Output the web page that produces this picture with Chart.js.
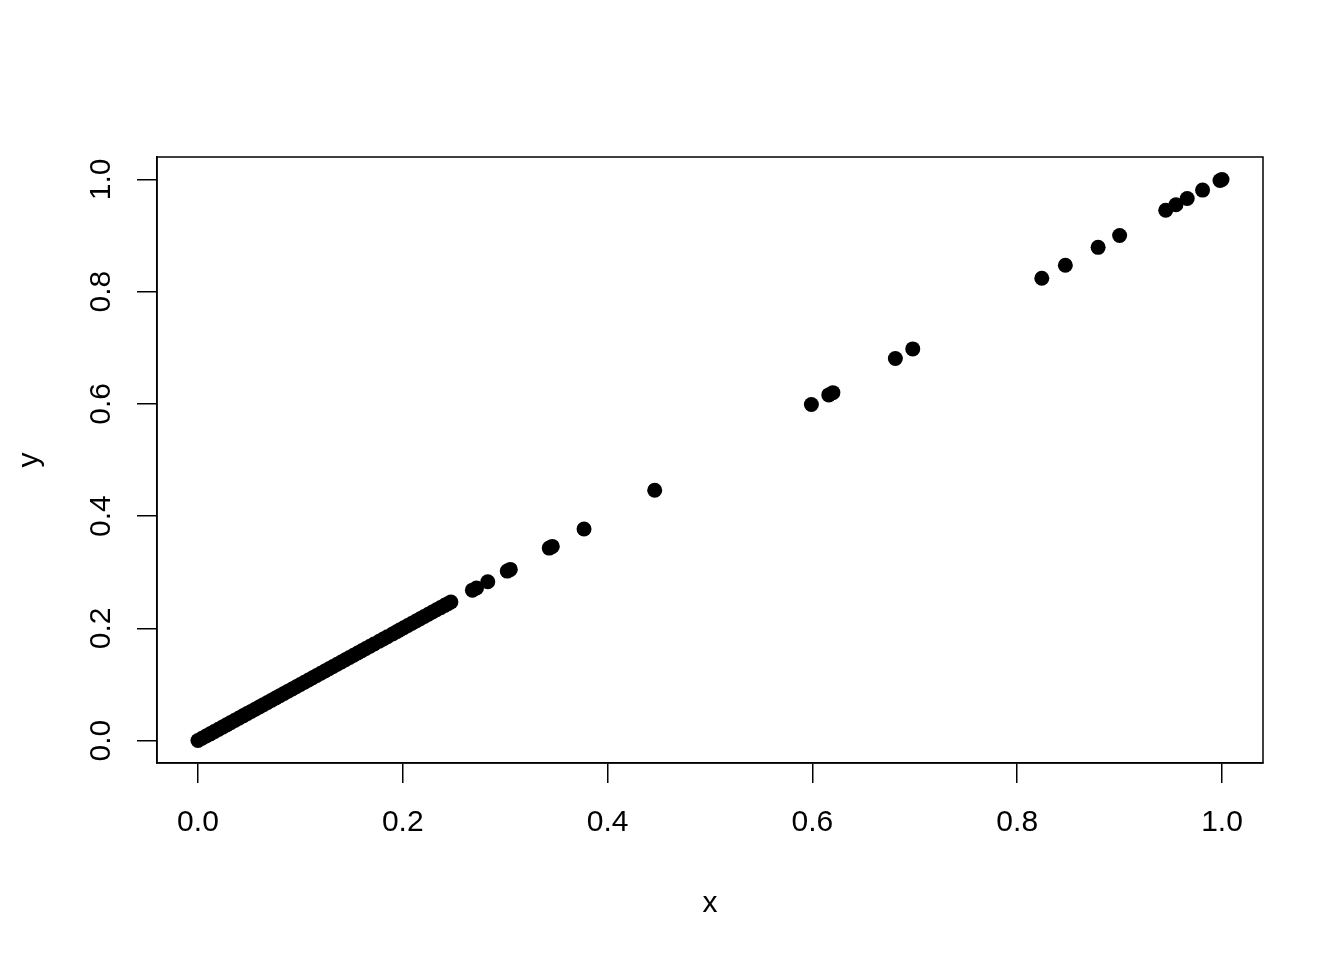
<!DOCTYPE html>
<html>
<head>
<meta charset="utf-8">
<script src="https://cdn.jsdelivr.net/npm/chart.js@4.4.1/dist/chart.umd.min.js"></script>
<style>
  html, body { margin: 0; padding: 0; background: #fff; }
  #wrap { width: 1344px; height: 960px; position: relative; }
</style>
</head>
<body>
<div id="wrap"><canvas id="plot"></canvas></div>
<script>
// values (points lie on y = x)
const xValues = [
  0.000, 0.004, 0.008, 0.012, 0.016, 0.020, 0.024, 0.028, 0.032, 0.036,
  0.040, 0.044, 0.048, 0.052, 0.056, 0.060, 0.064, 0.068, 0.072, 0.076,
  0.080, 0.084, 0.088, 0.092, 0.096, 0.100, 0.104, 0.108, 0.112, 0.116,
  0.120, 0.124, 0.128, 0.132, 0.136, 0.140, 0.144, 0.148, 0.152, 0.156,
  0.160, 0.164, 0.168, 0.172, 0.177, 0.181, 0.185, 0.190, 0.194, 0.197,
  0.201, 0.205, 0.209, 0.213, 0.217, 0.221, 0.225, 0.229, 0.233, 0.237,
  0.241, 0.244, 0.247,
  0.268, 0.272, 0.283, 0.302, 0.305, 0.343, 0.346, 0.377, 0.446,
  0.599, 0.616, 0.620, 0.681, 0.698, 0.824, 0.847, 0.879, 0.900,
  0.945, 0.955, 0.966, 0.981, 0.998, 1.000,
];
const yValues = [
  0.000, 0.004, 0.008, 0.012, 0.016, 0.020, 0.024, 0.028, 0.032, 0.036,
  0.040, 0.044, 0.048, 0.052, 0.056, 0.060, 0.064, 0.068, 0.072, 0.076,
  0.080, 0.084, 0.088, 0.092, 0.096, 0.100, 0.104, 0.108, 0.112, 0.116,
  0.120, 0.124, 0.128, 0.132, 0.136, 0.140, 0.144, 0.148, 0.152, 0.156,
  0.160, 0.164, 0.168, 0.172, 0.177, 0.181, 0.185, 0.190, 0.194, 0.197,
  0.201, 0.205, 0.209, 0.213, 0.217, 0.221, 0.225, 0.229, 0.233, 0.237,
  0.241, 0.244, 0.247,
  0.268, 0.272, 0.283, 0.302, 0.305, 0.343, 0.346, 0.377, 0.446,
  0.599, 0.616, 0.620, 0.681, 0.698, 0.824, 0.847, 0.879, 0.900,
  0.945, 0.955, 0.966, 0.981, 0.998, 1.000,
];
const xTicks = [0, 0.2, 0.4, 0.6, 0.8, 1.0];
const yTicks = [0, 0.2, 0.4, 0.6, 0.8, 1.0];

const FONT = { family: '"Liberation Sans", Arial, Helvetica, sans-serif', size: 30 };

function fixTicks(list) {
  return (scale) => { scale.ticks = list.map((v) => ({ value: v })); };
}

// R-style frame around the plotting region
const boxPlugin = {
  id: 'box',
  afterDraw(chart) {
    const { ctx, chartArea: a } = chart;
    ctx.save();
    ctx.strokeStyle = '#000';
    ctx.lineWidth = 1.5;
    ctx.strokeRect(a.left, a.top, a.right - a.left, a.bottom - a.top);
    ctx.restore();
  },
};

const points = xValues.map((x, i) => ({ x, y: yValues[i] }));

new Chart(document.getElementById('plot'), {
  type: 'scatter',
  data: {
    datasets: [{
      data: points,
      backgroundColor: '#000',
      borderWidth: 0,
      pointRadius: 7.5,
      pointHoverRadius: 7.5,
    }],
  },
  options: {
    responsive: true,
    maintainAspectRatio: false,
    devicePixelRatio: 1,
    animation: false,
    events: [],
    layout: { padding: { top: 157, right: 81, left: 0, bottom: 0 } },
    plugins: { legend: { display: false }, tooltip: { enabled: false } },
    scales: {
      x: {
        type: 'linear',
        min: -0.04,
        max: 1.04,
        afterBuildTicks: fixTicks(xTicks),
        afterFit(scale) { scale.height = 197; },
        border: { display: true, color: '#000', width: 1.5 },
        grid: { drawOnChartArea: false, drawTicks: true, tickLength: 20, color: '#000', lineWidth: 1.5 },
        ticks: {
          color: '#000',
          font: FONT,
          padding: 22,
          autoSkip: false,
          maxRotation: 0,
          callback: (v) => Number(v).toFixed(1),
        },
        title: { display: true, text: 'x', color: '#000', font: FONT, padding: { top: 0, bottom: 38.5 } },
      },
      y: {
        type: 'linear',
        min: -0.04,
        max: 1.04,
        afterBuildTicks: fixTicks(yTicks),
        afterFit(scale) { scale.width = 157; },
        border: { display: true, color: '#000', width: 1.5 },
        grid: { drawOnChartArea: false, drawTicks: true, tickLength: 20, color: '#000', lineWidth: 1.5 },
        ticks: {
          color: '#000',
          font: FONT,
          padding: 14,
          autoSkip: false,
          minRotation: 90,
          maxRotation: 90,
          crossAlign: 'center',
          callback: (v) => Number(v).toFixed(1),
        },
        title: { display: true, text: 'y', color: '#000', font: FONT, padding: { top: 12, bottom: 0 } },
      },
    },
  },
  plugins: [boxPlugin],
});
</script>
</body>
</html>
